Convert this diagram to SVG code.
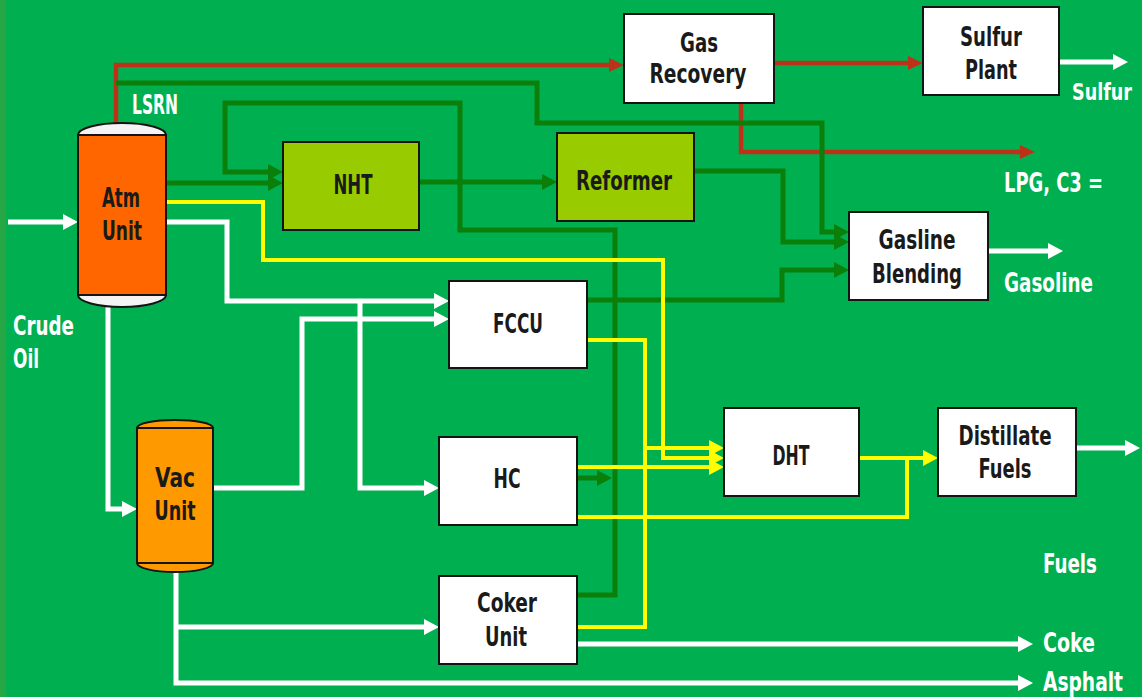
<svg xmlns="http://www.w3.org/2000/svg" width="1142" height="697" viewBox="0 0 1142 697">
<defs>
<style>
.t{font-family:'Liberation Sans Narrow','DejaVu Sans Condensed','Liberation Sans',sans-serif;font-weight:bold;font-size:27px;fill:#1a1a1a;text-anchor:middle}
.w{font-family:'Liberation Sans Narrow','DejaVu Sans Condensed','Liberation Sans',sans-serif;font-weight:bold;font-size:27px;fill:#ffffff}
.box{fill:#ffffff;stroke:#141414;stroke-width:2}
.gbox{fill:#99cc00;stroke:#141414;stroke-width:2}
.red{fill:none;stroke:#bc3218;stroke-width:4.5}
.grn{fill:none;stroke:#0a7f0a;stroke-width:5}
.yel{fill:none;stroke:#ffff00;stroke-width:4}
.wht{fill:none;stroke:#ffffff;stroke-width:5}
</style>
<marker id="ar" markerUnits="userSpaceOnUse" markerWidth="16" markerHeight="14" refX="3" refY="7" orient="auto"><path d="M0,0 L15,7 L0,14 z" fill="#bc3218"/></marker>
<marker id="ag" markerUnits="userSpaceOnUse" markerWidth="16" markerHeight="16" refX="3" refY="8" orient="auto"><path d="M0,0 L15,8 L0,16 z" fill="#0a7f0a"/></marker>
<marker id="ay" markerUnits="userSpaceOnUse" markerWidth="16" markerHeight="16" refX="3" refY="8" orient="auto"><path d="M0,0 L15,8 L0,16 z" fill="#ffff00"/></marker>
<marker id="aw" markerUnits="userSpaceOnUse" markerWidth="16" markerHeight="16" refX="3" refY="8" orient="auto"><path d="M0,0 L15,8 L0,16 z" fill="#ffffff"/></marker>
</defs>
<rect x="0" y="0" width="1142" height="697" fill="#00b050"/>
<rect x="0" y="0" width="6" height="697" fill="#27a646"/>

<g id="connectors">
<path class="red" d="M116,135 V65 H612" marker-end="url(#ar)"/>
<path class="red" d="M774,63 H911" marker-end="url(#ar)"/>
<path class="red" d="M741,103 V152 H1023" marker-end="url(#ar)"/>
<path class="grn" d="M116,83 H537 V123 H822 V232 H837" marker-end="url(#ag)"/>
<path class="grn" d="M577,595 H615 V230 H460 V103 H225 V172 H271" marker-end="url(#ag)"/>
<path class="grn" d="M166,183 H271" marker-end="url(#ag)"/>
<path class="grn" d="M419,182 H545" marker-end="url(#ag)"/>
<path class="grn" d="M694,171 H783 V242 H837" marker-end="url(#ag)"/>
<path class="grn" d="M587,300 H782 V270 H837" marker-end="url(#ag)"/>
<path class="grn" d="M577,478 H600" marker-end="url(#ag)"/>
<path class="yel" d="M166,202 H263 V260 H663 V458 H712" marker-end="url(#ay)"/>
<path class="yel" d="M587,340 H645 V627 H577"/>
<path class="yel" d="M645,448 H712" marker-end="url(#ay)"/>
<path class="yel" d="M577,467 H712" marker-end="url(#ay)"/>
<path class="yel" d="M577,517 H907 V458"/>
<path class="yel" d="M859,458 H926" marker-end="url(#ay)"/>
<path class="wht" d="M8,222 H66" marker-end="url(#aw)"/>
<path class="wht" d="M166,222 H227 V301 H437" marker-end="url(#aw)"/>
<path class="wht" d="M360,301 V488 H427" marker-end="url(#aw)"/>
<path class="wht" d="M213,488 H302 V319 H437" marker-end="url(#aw)"/>
<path class="wht" d="M108,307 V509 H125" marker-end="url(#aw)"/>
<path class="wht" d="M176,572 V683 H1021" marker-end="url(#aw)"/>
<path class="wht" d="M176,627 H427" marker-end="url(#aw)"/>
<path class="wht" d="M577,644 H1021" marker-end="url(#aw)"/>
<path class="wht" d="M1059,62 H1116" marker-end="url(#aw)"/>
<path class="wht" d="M988,251 H1051" marker-end="url(#aw)"/>
<path class="wht" d="M1076,448 H1128" marker-end="url(#aw)"/>
</g>

<g id="atm">
<ellipse cx="122" cy="135" rx="44" ry="12" fill="#f4f4f4" stroke="#141414" stroke-width="2"/>
<ellipse cx="122" cy="295" rx="44" ry="12" fill="#f4f4f4" stroke="#141414" stroke-width="2"/>
<rect x="78" y="135" width="88" height="160" fill="#ff6600" stroke="#141414" stroke-width="2"/>
<text class="t" x="121" y="207" textLength="38" lengthAdjust="spacingAndGlyphs">Atm</text>
<text class="t" x="122" y="240" textLength="40" lengthAdjust="spacingAndGlyphs">Unit</text>
</g>
<g id="vac">
<ellipse cx="175" cy="428" rx="38" ry="8" fill="#ff9900" stroke="#141414" stroke-width="2"/>
<ellipse cx="175" cy="563" rx="38" ry="9" fill="#ff9900" stroke="#141414" stroke-width="2"/>
<rect x="137" y="428" width="76" height="135" fill="#ff9900" stroke="#141414" stroke-width="2"/>
<text class="t" x="175" y="487" textLength="40" lengthAdjust="spacingAndGlyphs">Vac</text>
<text class="t" x="175" y="520" textLength="41" lengthAdjust="spacingAndGlyphs">Unit</text>
</g>
<g id="gasrec">
<rect class="box" x="624" y="14" width="150" height="89"/>
<text class="t" x="699" y="52" textLength="38" lengthAdjust="spacingAndGlyphs">Gas</text>
<text class="t" x="698" y="83" textLength="97" lengthAdjust="spacingAndGlyphs">Recovery</text>
</g>
<g id="sulfur">
<rect class="box" x="923" y="7" width="136" height="88"/>
<text class="t" x="991" y="46" textLength="62" lengthAdjust="spacingAndGlyphs">Sulfur</text>
<text class="t" x="991" y="79" textLength="52" lengthAdjust="spacingAndGlyphs">Plant</text>
</g>
<g id="nht">
<rect class="gbox" x="283" y="142" width="136" height="88"/>
<text class="t" x="353" y="194" textLength="39" lengthAdjust="spacingAndGlyphs">NHT</text>
</g>
<g id="reformer">
<rect class="gbox" x="557" y="133" width="137" height="88"/>
<text class="t" x="624" y="190" textLength="96" lengthAdjust="spacingAndGlyphs">Reformer</text>
</g>
<g id="blending">
<rect class="box" x="849" y="212" width="139" height="88"/>
<text class="t" x="917" y="249" textLength="77" lengthAdjust="spacingAndGlyphs">Gasline</text>
<text class="t" x="917" y="283" textLength="90" lengthAdjust="spacingAndGlyphs">Blending</text>
</g>
<g id="fccu">
<rect class="box" x="449" y="281" width="138" height="87"/>
<text class="t" x="518" y="333" textLength="50" lengthAdjust="spacingAndGlyphs">FCCU</text>
</g>
<g id="hc">
<rect class="box" x="439" y="437" width="138" height="88"/>
<text class="t" x="507" y="488" textLength="27" lengthAdjust="spacingAndGlyphs">HC</text>
</g>
<g id="coker">
<rect class="box" x="439" y="576" width="138" height="88"/>
<text class="t" x="507" y="612" textLength="60" lengthAdjust="spacingAndGlyphs">Coker</text>
<text class="t" x="506" y="646" textLength="42" lengthAdjust="spacingAndGlyphs">Unit</text>
</g>
<g id="dht">
<rect class="box" x="724" y="408" width="135" height="88"/>
<text class="t" x="791" y="465" textLength="37" lengthAdjust="spacingAndGlyphs">DHT</text>
</g>
<g id="distillate">
<rect class="box" x="938" y="408" width="138" height="88"/>
<text class="t" x="1005" y="445" textLength="93" lengthAdjust="spacingAndGlyphs">Distillate</text>
<text class="t" x="1005" y="478" textLength="53" lengthAdjust="spacingAndGlyphs">Fuels</text>
</g>

<g id="labels">
<text class="w" x="132" y="114" textLength="46" lengthAdjust="spacingAndGlyphs">LSRN</text>
<text class="w" x="13" y="335" textLength="61" lengthAdjust="spacingAndGlyphs">Crude</text>
<text class="w" x="13" y="368" textLength="26" lengthAdjust="spacingAndGlyphs">Oil</text>
<text class="w" x="1072" y="100" style="font-size:23px" textLength="60" lengthAdjust="spacingAndGlyphs">Sulfur</text>
<text class="w" x="1004" y="192" textLength="99" lengthAdjust="spacingAndGlyphs">LPG, C3 =</text>
<text class="w" x="1004" y="292" textLength="89" lengthAdjust="spacingAndGlyphs">Gasoline</text>
<text class="w" x="1043" y="573" textLength="54" lengthAdjust="spacingAndGlyphs">Fuels</text>
<text class="w" x="1043" y="652" textLength="52" lengthAdjust="spacingAndGlyphs">Coke</text>
<text class="w" x="1043" y="691" style="font-size:26px" textLength="80" lengthAdjust="spacingAndGlyphs">Asphalt</text>
</g>
</svg>
